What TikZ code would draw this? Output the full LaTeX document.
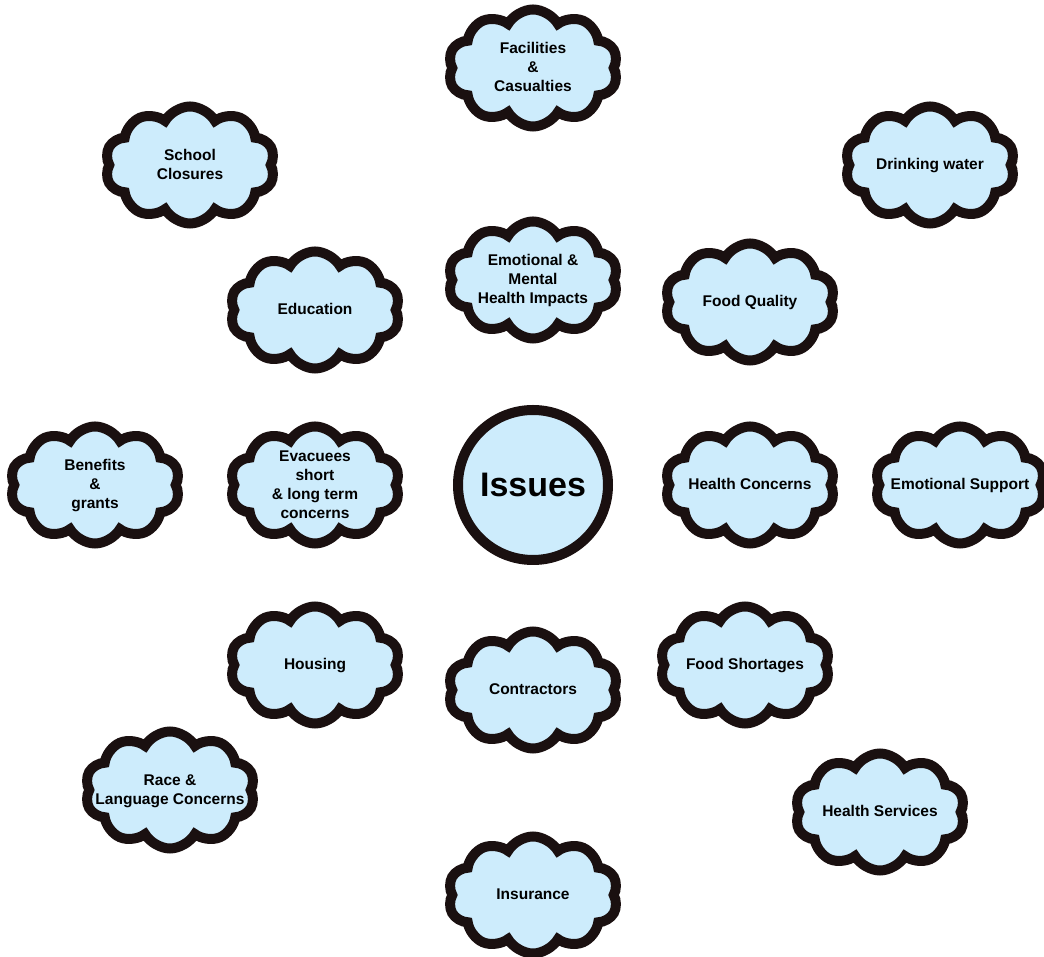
\documentclass[tikz,border=0pt]{standalone}
\usepackage{fontspec}
\setmainfont{Liberation Sans}
\usepackage{xcolor}
\usetikzlibrary{positioning, shapes.symbols}

\definecolor{cloudblue}{RGB}{205,236,252}
\definecolor{cloudline}{RGB}{26,16,16}

% text that does not resize the cloud
\newcommand{\cloudtext}[1]{\smash{\makebox[0pt]{\raisebox{-.3em}{\begin{tabular}{@{}c@{}}#1\end{tabular}}}}}

\begin{document}
\begin{tikzpicture}[
        on grid,
        every node/.style={font=\bfseries\fontsize{15.5}{19}\selectfont},
        issue/.style={cloud, cloud puffs=10, cloud puff arc=120,
          draw=cloudline, fill=cloudblue, line width=10pt,
          minimum width=170pt, minimum height=117pt, inner sep=0pt},
        hub/.style={circle, draw=cloudline, fill=cloudblue,
          line width=10pt, minimum size=150pt, inner sep=0pt,
          font=\bfseries\fontsize{34}{38}\selectfont},
      ]

      \useasboundingbox (-533pt,-472pt) rectangle (511pt,485pt);

      \node[hub] (issues) at (0,0) {Issues};

      % top row
      \node[issue, above=417pt of issues] (facilities) {\cloudtext{Facilities\\\&\\Casualties}};
      \node[issue, above left=320pt and 343pt of issues] (school) {\cloudtext{School\\Closures}};
      \node[issue, above right=320pt and 397pt of issues] (water) {\cloudtext{Drinking water}};

      % inner ring
      \node[issue, above=205pt of issues] (mental) {\cloudtext{Emotional \&\\Mental\\Health Impacts}};
      \node[issue, above left=175pt and 218pt of issues] (education) {\cloudtext{Education}};
      \node[issue, above right=183pt and 217pt of issues] (quality) {\cloudtext{Food Quality}};
      \node[issue, left=218pt of issues] (evacuees) {\cloudtext{Evacuees\\short\\\& long term\\concerns}};
      \node[issue, right=217pt of issues] (health) {\cloudtext{Health Concerns}};
      \node[issue, below left=180pt and 218pt of issues] (housing) {\cloudtext{Housing}};
      \node[issue, below right=180pt and 212pt of issues] (shortage) {\cloudtext{Food Shortages}};
      \node[issue, below=205pt of issues] (contractors) {\cloudtext{Contractors}};

      % outer ring
      \node[issue, left=438pt of issues] (benefits) {\cloudtext{Benefits\\\&\\grants}};
      \node[issue, right=427pt of issues] (support) {\cloudtext{Emotional Support}};
      \node[issue, below left=305pt and 363pt of issues] (race) {\cloudtext{Race \&\\Language Concerns}};
      \node[issue, below right=327pt and 347pt of issues] (services) {\cloudtext{Health Services}};
      \node[issue, below=410pt of issues] (insurance) {\cloudtext{Insurance}};

    \end{tikzpicture}
\end{document}
